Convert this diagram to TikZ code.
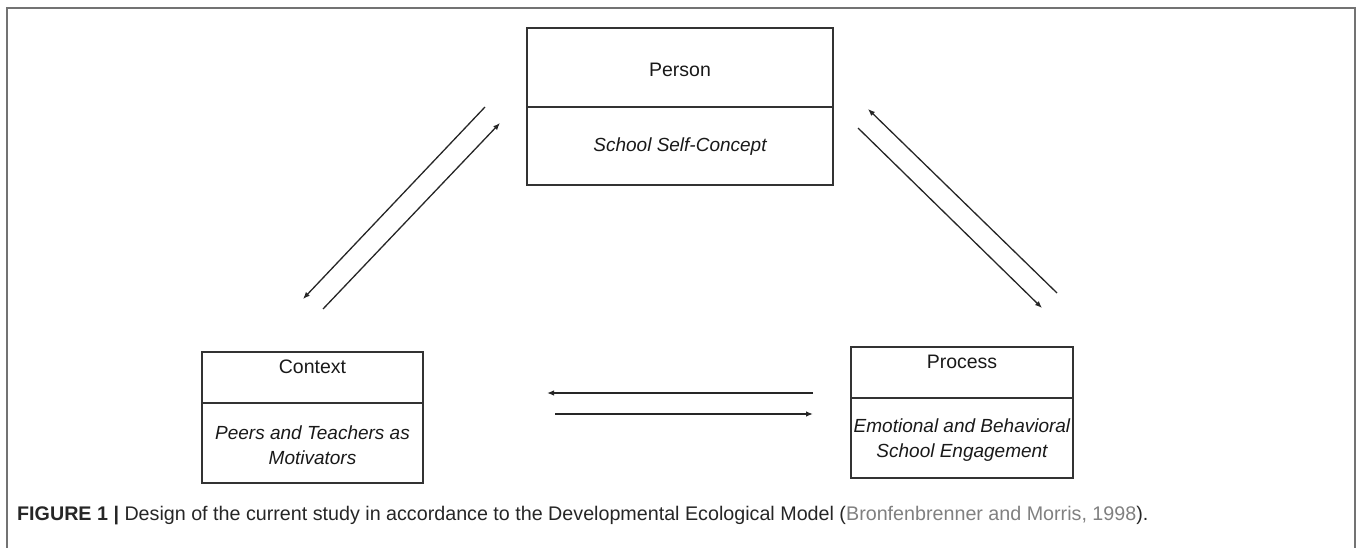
\documentclass[tikz,border=0pt]{standalone}
\usepackage{fontspec}
\setmainfont{Liberation Sans}
\usetikzlibrary{arrows.meta}
\begin{document}
\begin{tikzpicture}[x=1pt,y=-1pt,
  box/.style={draw=black!80, line width=1.3pt, inner sep=0pt},
  divider/.style={draw=black!80, line width=1.3pt},
  link/.style={draw=black!85, line width=1.3pt, -{Latex[length=7pt,width=5.5pt]}},
  head/.style={font=\fontsize{19.5}{23}\selectfont, text=black!90},
  body/.style={font=\fontsize{19}{24.5}\selectfont\itshape, align=center, text=black!90},
  frame/.style={draw=black!55, line width=2pt}]
\useasboundingbox (0,0) rectangle (1357,548);
% panel frame, open at the bottom
\draw[frame] (7,548) -- (7,8) -- (1355,8) -- (1355,548);

% Person box
\node[box, minimum width=306pt, minimum height=157pt] (person) at (680,106.5) {};
\draw[divider] (527,107) -- (833,107);
\node[head] (personT) at (680,70) {Person};
\node[body] (personB) at (680,147) {School Self-Concept};

% Context box
\node[box, minimum width=221pt, minimum height=131pt] (context) at (312.5,417.5) {};
\draw[divider] (202,403) -- (423,403);
\node[head] (contextT) at (312.5,367) {Context};
\node[body] (contextB) at (312.5,445) {Peers and Teachers as\\Motivators};

% Process box
\node[box, minimum width=222pt, minimum height=131pt] (process) at (962,412.5) {};
\draw[divider] (851,398) -- (1073,398);
\node[head] (processT) at (962,362) {Process};
\node[body] (processB) at (962,440) {Emotional and Behavioral\\School Engagement};

% reciprocal links
\coordinate (pc1s) at (485,107);  \coordinate (pc1e) at (303,299);
\coordinate (cp1s) at (323,309);  \coordinate (cp1e) at (500,123);
\coordinate (rp1s) at (1057,293); \coordinate (rp1e) at (868,109);
\coordinate (pr1s) at (858,128);  \coordinate (pr1e) at (1042,308);
\coordinate (rc1s) at (813,393);  \coordinate (rc1e) at (547,393);
\coordinate (cr1s) at (555,414);  \coordinate (cr1e) at (813,414);
\draw[link] (pc1s) -- (pc1e);
\draw[link] (cp1s) -- (cp1e);
\draw[link] (rp1s) -- (rp1e);
\draw[link] (pr1s) -- (pr1e);
\draw[link] (rc1s) -- (rc1e);
\draw[link] (cr1s) -- (cr1e);

% caption
\node[anchor=base west, inner sep=0pt, font=\fontsize{19.7}{23}\selectfont, text=black!85] (caption) at (17,520)
  {\textbf{FIGURE 1 |} Design of the current study in accordance to the Developmental Ecological Model (\textcolor{black!50}{Bronfenbrenner and Morris, 1998}).};
\end{tikzpicture}
\end{document}
